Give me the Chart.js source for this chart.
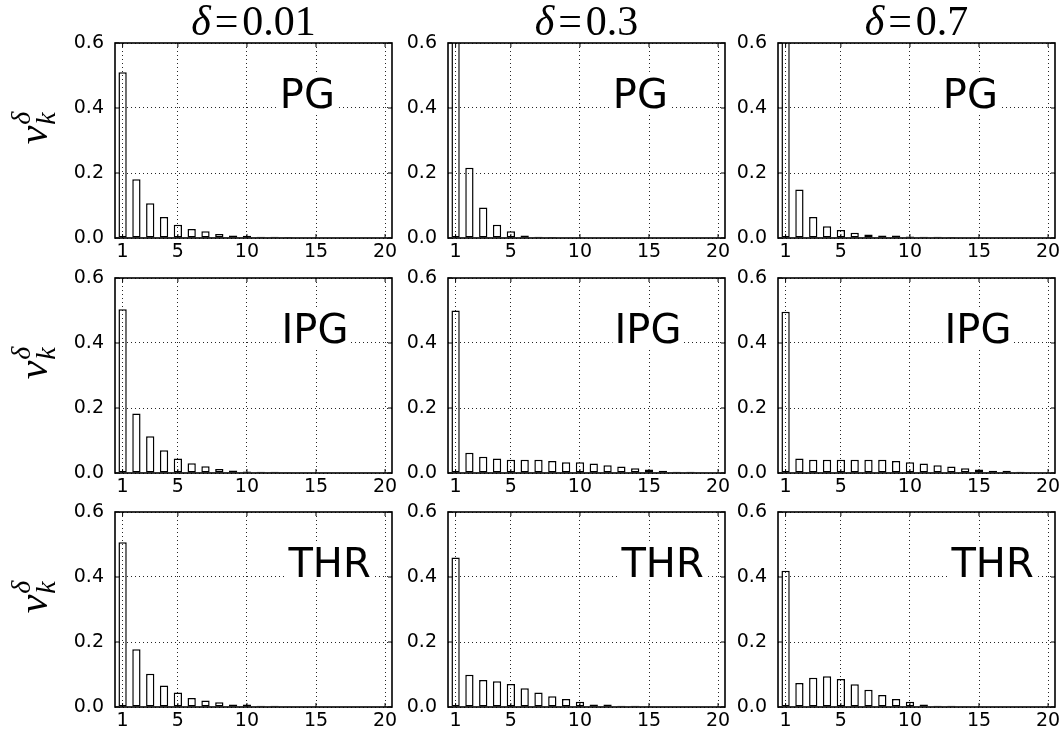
<!DOCTYPE html>
<html lang="en">
<head>
<meta charset="UTF-8">
<title>nu_k^delta histograms</title>
<script src="https://cdn.jsdelivr.net/npm/chart.js@4.4.0/dist/chart.umd.min.js"></script>
<style>
    body { margin: 0; background: #fff; }
    #wrap { position: relative; width: 1062px; height: 738px; overflow: hidden; background: #fff; }
    #wrap canvas { position: absolute; }
</style>
</head>
<body>
<div id="wrap"></div>
<script>
    // data
    const ks = [1, 2, 3, 4, 5, 6, 7, 8, 9, 10, 11, 12, 13, 14, 15, 16, 17, 18, 19, 20];
    const xTicks = [1, 5, 10, 15, 20];
    const yTicks = [0, 0.2, 0.4, 0.6];
    const deltas = ['0.01', '0.3', '0.7'];
    const methods = ['PG', 'IPG', 'THR'];

    const pg001  = [0.510, 0.181, 0.107, 0.065, 0.041, 0.028, 0.021, 0.012, 0.008, 0.007, 0.004, 0.004, 0.003, 0, 0, 0, 0, 0, 0, 0];
    const pg03   = [0.680, 0.216, 0.094, 0.041, 0.021, 0.008, 0.004, 0.003, 0, 0, 0, 0, 0, 0, 0, 0, 0, 0, 0, 0];
    const pg07   = [0.720, 0.149, 0.065, 0.036, 0.025, 0.016, 0.011, 0.008, 0.008, 0.005, 0.004, 0.004, 0.003, 0, 0, 0, 0, 0, 0, 0];
    const ipg001 = [0.504, 0.183, 0.113, 0.070, 0.045, 0.030, 0.021, 0.012, 0.008, 0.005, 0.004, 0.004, 0.002, 0, 0, 0, 0, 0, 0, 0];
    const ipg03  = [0.500, 0.062, 0.050, 0.045, 0.041, 0.041, 0.041, 0.037, 0.033, 0.033, 0.029, 0.024, 0.020, 0.015, 0.011, 0.007, 0.004, 0.004, 0.001, 0];
    const ipg07  = [0.496, 0.045, 0.041, 0.041, 0.041, 0.041, 0.041, 0.041, 0.037, 0.033, 0.029, 0.024, 0.020, 0.015, 0.011, 0.007, 0.007, 0.004, 0.001, 0];
    const thr001 = [0.507, 0.178, 0.102, 0.066, 0.045, 0.028, 0.020, 0.015, 0.008, 0.008, 0.004, 0.004, 0.001, 0, 0, 0, 0, 0, 0, 0];
    const thr03  = [0.460, 0.099, 0.083, 0.079, 0.071, 0.058, 0.045, 0.033, 0.025, 0.016, 0.008, 0.008, 0.004, 0.004, 0.001, 0, 0, 0, 0, 0];
    const thr07  = [0.419, 0.074, 0.090, 0.095, 0.086, 0.070, 0.053, 0.037, 0.025, 0.016, 0.008, 0.004, 0.004, 0.001, 0, 0, 0, 0, 0, 0];

    const panels = [
        [pg001, pg03, pg07],
        [ipg001, ipg03, ipg07],
        [thr001, thr03, thr07]
    ];

    // layout (page pixels)
    const plotLefts = [115, 448, 778];
    const plotTops = [43, 278, 512];
    const plotW = 277;
    const plotH = 195;
    const padTop = 45, padRight = 15, yAxisW = 55, xAxisH = 30;
    const labelFrac = [0.595, 0.601, 0.626];

    const sans = '"DejaVu Sans", sans-serif';
    const serif = '"Liberation Serif", "DejaVu Serif", serif';

    // draws frame, inward ticks, panel label, column title and row label
    function panelPlugin(r, c) {
        return {
            id: 'panel' + r + c,
            afterDraw(chart) {
                const ctx = chart.ctx;
                const a = chart.chartArea;
                const xs = chart.scales.x, ys = chart.scales.y;
                ctx.save();

                // method label with white box behind it
                ctx.font = '40px ' + sans;
                ctx.textAlign = 'left';
                ctx.textBaseline = 'alphabetic';
                const txt = methods[r];
                const tx = a.left + labelFrac[r] * (a.right - a.left);
                const ty = ys.getPixelForValue(0.4);
                const m = ctx.measureText(txt);
                ctx.fillStyle = '#fff';
                ctx.fillRect(tx - 2, ty - m.actualBoundingBoxAscent - 3,
                    m.width + 4, m.actualBoundingBoxAscent + m.actualBoundingBoxDescent + 6);
                ctx.fillStyle = '#000';
                ctx.fillText(txt, tx, ty);

                // inward tick marks on all four sides
                ctx.strokeStyle = '#000';
                ctx.lineWidth = 1;
                ctx.beginPath();
                xTicks.forEach(function (v) {
                    const px = xs.getPixelForValue(v);
                    ctx.moveTo(px, a.bottom); ctx.lineTo(px, a.bottom - 4);
                    ctx.moveTo(px, a.top); ctx.lineTo(px, a.top + 4);
                });
                yTicks.forEach(function (v) {
                    const py = ys.getPixelForValue(v);
                    ctx.moveTo(a.left, py); ctx.lineTo(a.left + 4, py);
                    ctx.moveTo(a.right, py); ctx.lineTo(a.right - 4, py);
                });
                ctx.stroke();

                // frame
                ctx.lineWidth = 1.6;
                ctx.strokeRect(a.left, a.top, a.right - a.left, a.bottom - a.top);

                // column title  δ=0.01
                if (r === 0) {
                    const parts = [
                        { t: 'δ', f: 'italic 42px ' + serif },
                        { t: '=', f: '42px ' + serif },
                        { t: deltas[c], f: '42px ' + serif }
                    ];
                    const gap = 4;
                    let total = 0;
                    parts.forEach(function (p) {
                        ctx.font = p.f;
                        p.w = ctx.measureText(p.t).width;
                        total += p.w;
                    });
                    total += gap * (parts.length - 1);
                    let x = (a.left + a.right) / 2 - total / 2;
                    const by = a.top - 8;
                    ctx.fillStyle = '#000';
                    parts.forEach(function (p) {
                        ctx.font = p.f;
                        ctx.fillText(p.t, x, by);
                        x += p.w + gap;
                    });
                }

                // row label  ν_k^δ (rotated)
                if (c === 0) {
                    const cx = a.left - 68;
                    const cy = (a.top + a.bottom) / 2 - 12;
                    ctx.translate(cx, cy);
                    ctx.rotate(-Math.PI / 2);
                    ctx.font = 'italic 42px ' + serif;
                    const wn = ctx.measureText('ν').width;
                    ctx.font = 'italic 28px ' + serif;
                    const wk = ctx.measureText('k').width;
                    const wd = ctx.measureText('δ').width;
                    const w = wn + Math.max(wk, wd);
                    const x0 = -w / 2;
                    ctx.fillStyle = '#000';
                    ctx.font = 'italic 42px ' + serif;
                    ctx.fillText('ν', x0, 0);
                    ctx.font = 'italic 28px ' + serif;
                    ctx.fillText('k', x0 + wn + 1, 8);
                    ctx.fillText('δ', x0 + wn + 1, -17);
                }

                ctx.restore();
            }
        };
    }

    function makeChart(r, c) {
        const padLeft = c === 0 ? plotLefts[0] - yAxisW : 0;
        const canvas = document.createElement('canvas');
        const w = padLeft + yAxisW + plotW + padRight;
        const h = padTop + plotH + xAxisH;
        canvas.width = w;
        canvas.height = h;
        canvas.style.width = w + 'px';
        canvas.style.height = h + 'px';
        canvas.style.left = (plotLefts[c] - yAxisW - padLeft) + 'px';
        canvas.style.top = (plotTops[r] - padTop) + 'px';
        document.getElementById('wrap').appendChild(canvas);

        const values = panels[r][c];
        const points = ks.map(function (k, i) { return { x: k, y: values[i] }; });

        new Chart(canvas, {
            type: 'bar',
            data: {
                datasets: [{
                    data: points,
                    backgroundColor: '#fff',
                    borderColor: '#000',
                    borderWidth: 1.5,
                    borderSkipped: false,
                    barPercentage: 0.6,
                    categoryPercentage: 1
                }]
            },
            options: {
                responsive: false,
                animation: false,
                devicePixelRatio: 1,
                events: [],
                layout: { padding: { left: padLeft, top: padTop, right: padRight, bottom: 0 } },
                plugins: { legend: { display: false }, tooltip: { enabled: false }, title: { display: false } },
                scales: {
                    x: {
                        type: 'linear',
                        min: 0.45,
                        max: 20.5,
                        offset: false,
                        afterBuildTicks: function (s) { s.ticks = xTicks.map(function (v) { return { value: v }; }); },
                        afterFit: function (s) { s.height = xAxisH; },
                        grid: { color: 'rgba(0,0,0,0.85)', lineWidth: 1, drawTicks: false, offset: false, z: 1 },
                        border: { display: false, dash: [1, 3] },
                        ticks: { padding: 3, autoSkip: false, maxRotation: 0, color: '#000', font: { family: 'DejaVu Sans', size: 19 } }
                    },
                    y: {
                        min: 0,
                        max: 0.6,
                        afterBuildTicks: function (s) { s.ticks = yTicks.map(function (v) { return { value: v }; }); },
                        afterFit: function (s) { s.width = yAxisW; },
                        grid: { color: 'rgba(0,0,0,0.85)', lineWidth: 1, drawTicks: false, z: 1 },
                        border: { display: false, dash: [1, 3] },
                        ticks: {
                            padding: 11,
                            color: '#000',
                            font: { family: 'DejaVu Sans', size: 19 },
                            callback: function (v) { return Number(v).toFixed(1); }
                        }
                    }
                }
            },
            plugins: [panelPlugin(r, c)]
        });
    }

    for (let r = 0; r < 3; r++) {
        for (let c = 0; c < 3; c++) {
            makeChart(r, c);
        }
    }
</script>
</body>
</html>
